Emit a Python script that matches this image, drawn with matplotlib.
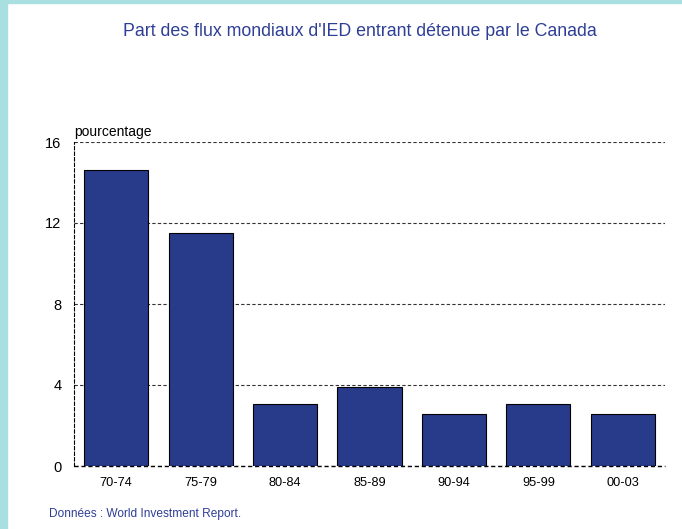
import matplotlib
matplotlib.use("Agg")
import matplotlib.pyplot as plt
from matplotlib.patches import Rectangle

categories = ["70-74", "75-79", "80-84", "85-89", "90-94", "95-99", "00-03"]
values = [14.6, 11.5, 3.05, 3.9, 2.55, 3.05, 2.55]
yticks = [0, 4, 8, 12, 16]

plt.rcParams['font.family'] = ['Liberation Sans', 'DejaVu Sans']

W, H = 682, 529
fig = plt.figure(figsize=(W / 100, H / 100), dpi=100)
fig.patch.set_facecolor("white")

# cyan frame strips
cyan = "#A9DFE1"
fig.patches.append(Rectangle((0, 0), 7 / W, 1, transform=fig.transFigure, color=cyan, zorder=0))
fig.patches.append(Rectangle((0, 1 - 3 / H), 1, 3 / H, transform=fig.transFigure, color=cyan, zorder=0))

ax = fig.add_axes([74 / W, 1 - 466 / H, (665 - 74) / W, (466 - 142) / H])
x = list(range(len(categories)))
ax.bar(x, values, width=0.76, color="#283A8A", edgecolor="black", linewidth=0.8, zorder=3)
ax.set_xlim(-0.5, len(categories) - 0.5)
ax.set_ylim(0, 16)
ax.set_yticks(yticks)
ax.set_xticks(x)
ax.set_xticklabels(categories, fontsize=9.2)
ax.tick_params(axis="y", labelsize=10.5, length=0, pad=9)
ax.tick_params(axis="x", length=0, pad=8)

for s in ["top", "right", "bottom"]:
    ax.spines[s].set_visible(False)
ax.spines["left"].set_linestyle((0, (3, 2)))
ax.spines["left"].set_linewidth(0.8)
ax.yaxis.grid(True, linestyle=(0, (3, 2)), color="#333333", linewidth=0.8, zorder=0)
ax.axhline(0, linestyle=(0, (3, 2)), color="black", linewidth=1.0, zorder=4, clip_on=False)
ax.set_axisbelow(True)

ax.text(0.0, 1.01, "pourcentage", transform=ax.transAxes, fontsize=10, ha="left", va="bottom")

fig.text(359.5 / W, 1 - 31 / H, "Part des flux mondiaux d'IED entrant détenue par le Canada",
         ha="center", va="center", fontsize=12.8, color="#2E3E96")
fig.text(49 / W, 1 - 514 / H, "Données : World Investment Report.", ha="left", va="center",
         fontsize=8.6, color="#2E3E96")

fig.savefig("out.png", dpi=100)
